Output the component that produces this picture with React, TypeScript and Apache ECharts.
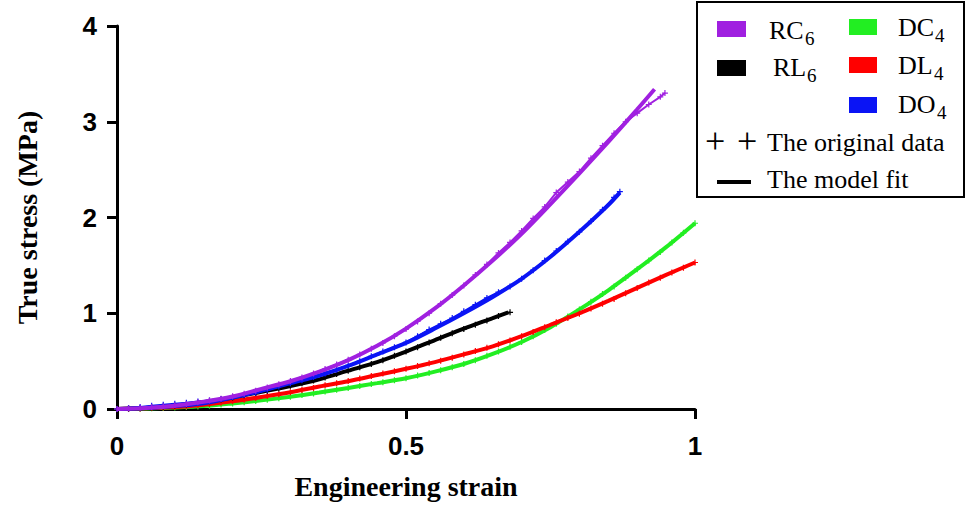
import React, { useEffect, useRef } from 'react';
import * as echarts from 'echarts';

// ---- tick values ----
const xTickValues = [0, 0.5, 1];
const yTickValues = [0, 1, 2, 3, 4];

// ---- RC6 (purple) ----
const rc6Data: number[][] = [
  [0, 0], [0.02, 0.005], [0.04, 0.012], [0.06, 0.02], [0.08, 0.03], [0.1, 0.04], [0.12, 0.052], [0.14, 0.07],
  [0.16, 0.088], [0.18, 0.108], [0.2, 0.132], [0.22, 0.158], [0.24, 0.19], [0.26, 0.225], [0.28, 0.258],
  [0.3, 0.292], [0.32, 0.33], [0.34, 0.372], [0.36, 0.418], [0.38, 0.465], [0.4, 0.515], [0.42, 0.57],
  [0.44, 0.63], [0.46, 0.69], [0.48, 0.76], [0.5, 0.835], [0.52, 0.915], [0.54, 1.0], [0.56, 1.1], [0.58, 1.19],
  [0.6, 1.29], [0.62, 1.4], [0.64, 1.51], [0.66, 1.63], [0.68, 1.74], [0.7, 1.86], [0.72, 1.99], [0.74, 2.11],
  [0.76, 2.26], [0.78, 2.37], [0.8, 2.48], [0.82, 2.62], [0.84, 2.75], [0.86, 2.88], [0.88, 3.0], [0.9, 3.09],
  [0.92, 3.18], [0.94, 3.26], [0.948, 3.3],
];
const rc6Fit: number[][] = [
  [0, 0], [0.05, 0.01], [0.1, 0.035], [0.15, 0.075], [0.2, 0.13], [0.25, 0.21], [0.3, 0.29], [0.35, 0.39],
  [0.4, 0.51], [0.45, 0.66], [0.5, 0.84], [0.55, 1.05], [0.6, 1.29], [0.65, 1.55], [0.7, 1.83], [0.75, 2.14],
  [0.8, 2.46], [0.85, 2.79], [0.9, 3.13], [0.93, 3.34],
];

// ---- RL6 (black) ----
const rl6Data: number[][] = [
  [0, 0], [0.02, 0.003], [0.04, 0.008], [0.06, 0.015], [0.08, 0.024], [0.1, 0.034], [0.12, 0.047], [0.14, 0.063],
  [0.16, 0.08], [0.18, 0.1], [0.2, 0.12], [0.22, 0.143], [0.24, 0.167], [0.26, 0.19], [0.28, 0.215], [0.3, 0.242],
  [0.32, 0.27], [0.34, 0.298], [0.36, 0.33], [0.38, 0.365], [0.4, 0.4], [0.42, 0.435], [0.44, 0.47], [0.46, 0.51],
  [0.48, 0.555], [0.5, 0.6], [0.52, 0.645], [0.54, 0.695], [0.56, 0.745], [0.58, 0.79], [0.6, 0.835], [0.62, 0.88],
  [0.64, 0.925], [0.66, 0.97], [0.68, 1.01],
];
const rl6Fit: number[][] = [
  [0, 0], [0.05, 0.01], [0.1, 0.035], [0.15, 0.07], [0.2, 0.12], [0.25, 0.18], [0.3, 0.24], [0.35, 0.31],
  [0.4, 0.4], [0.45, 0.49], [0.5, 0.6], [0.55, 0.72], [0.6, 0.84], [0.65, 0.95], [0.677, 1.01],
];

// ---- DC4 (green) ----
const dc4Data: number[][] = [
  [0, 0], [0.02, 0.002], [0.04, 0.004], [0.06, 0.007], [0.08, 0.011], [0.1, 0.015], [0.12, 0.021], [0.14, 0.027],
  [0.16, 0.035], [0.18, 0.046], [0.2, 0.058], [0.22, 0.07], [0.24, 0.083], [0.26, 0.097], [0.28, 0.112],
  [0.3, 0.128], [0.32, 0.145], [0.34, 0.163], [0.36, 0.182], [0.38, 0.2], [0.4, 0.22], [0.42, 0.24], [0.44, 0.26],
  [0.46, 0.28], [0.48, 0.3], [0.5, 0.322], [0.52, 0.35], [0.54, 0.375], [0.56, 0.405], [0.58, 0.435], [0.6, 0.47],
  [0.62, 0.51], [0.64, 0.555], [0.66, 0.6], [0.68, 0.65], [0.7, 0.7], [0.72, 0.76], [0.74, 0.825], [0.76, 0.89],
  [0.78, 0.965], [0.8, 1.04], [0.82, 1.12], [0.84, 1.2], [0.86, 1.28], [0.88, 1.37], [0.9, 1.46], [0.92, 1.55],
  [0.94, 1.64], [0.96, 1.74], [0.98, 1.84], [1.0, 1.94],
];
const dc4Fit: number[][] = [
  [0, 0], [0.05, 0.005], [0.1, 0.015], [0.15, 0.03], [0.2, 0.058], [0.25, 0.09], [0.3, 0.128], [0.35, 0.172],
  [0.4, 0.22], [0.45, 0.27], [0.5, 0.322], [0.55, 0.39], [0.6, 0.47], [0.65, 0.575], [0.7, 0.7], [0.75, 0.855],
  [0.8, 1.04], [0.85, 1.24], [0.9, 1.46], [0.95, 1.69], [1.0, 1.94],
];

// ---- DL4 (red) ----
const dl4Data: number[][] = [
  [0, 0], [0.02, 0.003], [0.04, 0.006], [0.06, 0.01], [0.08, 0.015], [0.1, 0.021], [0.12, 0.03], [0.14, 0.04],
  [0.16, 0.052], [0.18, 0.066], [0.2, 0.08], [0.22, 0.097], [0.24, 0.115], [0.26, 0.135], [0.28, 0.155],
  [0.3, 0.176], [0.32, 0.198], [0.34, 0.22], [0.36, 0.248], [0.38, 0.27], [0.4, 0.292], [0.42, 0.318],
  [0.44, 0.345], [0.46, 0.37], [0.48, 0.395], [0.5, 0.42], [0.52, 0.45], [0.54, 0.478], [0.56, 0.505],
  [0.58, 0.535], [0.6, 0.57], [0.62, 0.605], [0.64, 0.64], [0.66, 0.675], [0.68, 0.715], [0.7, 0.76],
  [0.72, 0.805], [0.74, 0.855], [0.76, 0.905], [0.78, 0.95], [0.8, 0.995], [0.82, 1.05], [0.84, 1.1],
  [0.86, 1.15], [0.88, 1.21], [0.9, 1.265], [0.92, 1.32], [0.94, 1.37], [0.96, 1.425], [0.98, 1.475], [1.0, 1.53],
];
const dl4Fit: number[][] = [
  [0, 0], [0.05, 0.008], [0.1, 0.02], [0.15, 0.045], [0.2, 0.08], [0.25, 0.125], [0.3, 0.175], [0.35, 0.235],
  [0.4, 0.29], [0.45, 0.355], [0.5, 0.42], [0.55, 0.49], [0.6, 0.57], [0.65, 0.655], [0.7, 0.76], [0.75, 0.88],
  [0.8, 1.0], [0.85, 1.13], [0.9, 1.265], [0.95, 1.4], [1.0, 1.53],
];

// ---- DO4 (blue) ----
const do4Data: number[][] = [
  [0, 0], [0.02, 0.01], [0.04, 0.022], [0.06, 0.035], [0.08, 0.045], [0.1, 0.055], [0.12, 0.065], [0.14, 0.078],
  [0.16, 0.09], [0.18, 0.105], [0.2, 0.125], [0.22, 0.145], [0.24, 0.17], [0.26, 0.2], [0.28, 0.235], [0.3, 0.27],
  [0.32, 0.3], [0.34, 0.335], [0.36, 0.37], [0.38, 0.41], [0.4, 0.455], [0.42, 0.5], [0.44, 0.55], [0.46, 0.6],
  [0.48, 0.645], [0.5, 0.695], [0.52, 0.76], [0.54, 0.83], [0.56, 0.89], [0.58, 0.95], [0.6, 1.02], [0.62, 1.09],
  [0.64, 1.16], [0.66, 1.22], [0.68, 1.28], [0.7, 1.36], [0.72, 1.45], [0.74, 1.55], [0.76, 1.65], [0.78, 1.75],
  [0.8, 1.85], [0.82, 1.96], [0.84, 2.08], [0.86, 2.21], [0.87, 2.27],
];
const do4Fit: number[][] = [
  [0, 0], [0.05, 0.01], [0.1, 0.03], [0.15, 0.06], [0.2, 0.12], [0.25, 0.19], [0.3, 0.27], [0.35, 0.35],
  [0.4, 0.45], [0.45, 0.57], [0.5, 0.69], [0.55, 0.84], [0.6, 1.0], [0.65, 1.17], [0.7, 1.36], [0.75, 1.59],
  [0.8, 1.85], [0.85, 2.13], [0.87, 2.26],
];

// ---- legend labels ----
const legendSwatches = [
  { main: 'RC', sub: '6', color: '#a020e0' },
  { main: 'RL', sub: '6', color: '#000000' },
  { main: 'DC', sub: '4', color: '#22ee22' },
  { main: 'DL', sub: '4', color: '#ff0000' },
  { main: 'DO', sub: '4', color: '#0a14f5' },
];
const legendMarkerLabels = ['The original data', 'The model fit'];
const xAxisTitle = 'Engineering strain';
const yAxisTitle = 'True stress (MPa)';

const SERIF = "'Times New Roman', 'Liberation Serif', serif";
const SANS = "Arial, 'Liberation Sans', sans-serif";
const PLUS = 'path://M5,0L5,10M0,5L10,5';

export default function App() {
  const ref = useRef<HTMLDivElement>(null);
  useEffect(() => {
    const chart = echarts.init(ref.current!, null, { renderer: 'svg' });
    const [rc, rl, dc, dl, dO] = legendSwatches;
    const defs = [
      { c: dc.color, data: dc4Data, fit: dc4Fit },
      { c: dl.color, data: dl4Data, fit: dl4Fit },
      { c: rl.color, data: rl6Data, fit: rl6Fit },
      { c: dO.color, data: do4Data, fit: do4Fit },
      { c: rc.color, data: rc6Data, fit: rc6Fit },
    ];
    const series: any[] = [];
    defs.forEach((d, i) => {
      series.push({
        type: 'line', data: d.data, symbol: PLUS, symbolSize: 6, showAllSymbol: true,
        lineStyle: { color: d.c, width: 2 },
        itemStyle: { color: d.c, borderColor: d.c, borderWidth: 1.2 },
        z: 2 + i * 2,
      });
      series.push({
        type: 'line', data: d.fit, smooth: 0.3, symbol: 'none', showSymbol: false,
        lineStyle: { color: d.c, width: 4 },
        z: 3 + i * 2,
      });
    });

    const txt = (x: number, y: number, text: string, size: number, extra: any = {}) => ({
      type: 'text', x, y, z: 101,
      style: { text, fontFamily: SERIF, fontSize: size, fill: '#000', verticalAlign: 'middle', align: 'left', ...extra },
    });

    const graphic: any[] = [
      { type: 'rect', shape: { x: 697, y: 2, width: 267, height: 195 }, style: { fill: '#fff', stroke: '#000', lineWidth: 2 }, z: 100 },
      { type: 'rect', shape: { x: 717, y: 21, width: 29, height: 16 }, style: { fill: rc.color }, z: 101 },
      { type: 'rect', shape: { x: 717, y: 60, width: 29, height: 16 }, style: { fill: rl.color }, z: 101 },
      { type: 'rect', shape: { x: 849, y: 19, width: 28, height: 16 }, style: { fill: dc.color }, z: 101 },
      { type: 'rect', shape: { x: 849, y: 57, width: 28, height: 16 }, style: { fill: dl.color }, z: 101 },
      { type: 'rect', shape: { x: 849, y: 97, width: 28, height: 16 }, style: { fill: dO.color }, z: 101 },
      txt(769, 30, rc.main, 26),
      txt(805, 38, rc.sub, 19),
      txt(773, 67, rl.main, 26),
      txt(807, 75, rl.sub, 19),
      txt(898, 27, dc.main, 26),
      txt(935, 35, dc.sub, 19),
      txt(898, 65, dl.main, 26),
      txt(934, 73, dl.sub, 19),
      txt(898, 104, dO.main, 26),
      txt(937, 112, dO.sub, 19),
      txt(705, 141, '+', 36),
      txt(737, 141, '+', 36),
      txt(767, 142, legendMarkerLabels[0], 26),
      { type: 'line', shape: { x1: 717, y1: 182, x2: 751, y2: 182 }, style: { stroke: '#000', lineWidth: 4 }, z: 101 },
      txt(767, 179, legendMarkerLabels[1], 26),
    ];

    chart.setOption({
      animation: false,
      backgroundColor: '#fff',
      grid: { left: 117, right: 277, top: 26, bottom: 99, containLabel: false },
      xAxis: {
        type: 'value', min: xTickValues[0], max: xTickValues[xTickValues.length - 1],
        interval: xTickValues[1] - xTickValues[0],
        name: xAxisTitle, nameLocation: 'middle', nameGap: 63,
        nameTextStyle: { fontFamily: SERIF, fontWeight: 'bold', fontSize: 28, color: '#000' },
        axisLine: { show: true, onZero: false, lineStyle: { color: '#000', width: 3 } },
        axisTick: { show: true, length: 10, lineStyle: { color: '#000', width: 3 } },
        axisLabel: { fontFamily: SANS, fontWeight: 'bold', fontSize: 26, color: '#000', margin: 24 },
        splitLine: { show: false },
      },
      yAxis: {
        type: 'value', min: yTickValues[0], max: yTickValues[yTickValues.length - 1],
        interval: yTickValues[1] - yTickValues[0],
        name: yAxisTitle, nameLocation: 'middle', nameGap: 76,
        nameTextStyle: { fontFamily: SERIF, fontWeight: 'bold', fontSize: 28, color: '#000' },
        axisLine: { show: true, onZero: false, lineStyle: { color: '#000', width: 3 } },
        axisTick: { show: true, length: 10, lineStyle: { color: '#000', width: 3 } },
        axisLabel: { fontFamily: SANS, fontWeight: 'bold', fontSize: 26, color: '#000', margin: 20 },
        splitLine: { show: false },
      },
      series,
      graphic,
    });
    return () => chart.dispose();
  }, []);
  return <div ref={ref} style={{ position: 'fixed', left: 0, top: 0, width: 972, height: 508, background: '#fff' }} />;
}
